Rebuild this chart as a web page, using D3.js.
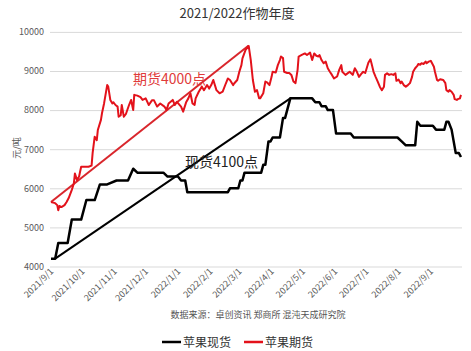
<!DOCTYPE html>
<html>
<head>
<meta charset="utf-8">
<script src="https://cdn.jsdelivr.net/npm/d3@7"></script>
<style>
  body { margin: 0; background: #fff; }
  text { font-family: "Noto Sans CJK SC", "Noto Sans", sans-serif; }
  .tick text { fill: #595959; font-size: 9px; }
  .grid line { stroke: #d9d9d9; }
</style>
</head>
<body>
<div id="chart"></div>
<script>
// apple spot price (step changes), 元/吨
const spotDates = ["2021-09-01","2021-09-05","2021-09-08","2021-09-17","2021-09-21","2021-09-30","2021-10-05","2021-10-13","2021-10-18","2021-10-25","2021-11-03","2021-11-14","2021-11-19","2021-11-23","2021-12-18","2021-12-22","2022-01-01","2022-01-04","2022-01-08","2022-01-10","2022-02-18","2022-02-20","2022-02-28","2022-03-02","2022-03-04","2022-03-06","2022-03-22","2022-03-24","2022-03-26","2022-03-29","2022-03-31","2022-04-02","2022-04-09","2022-04-12","2022-04-14","2022-04-19","2022-05-10","2022-05-13","2022-05-17","2022-05-19","2022-05-23","2022-05-25","2022-05-30","2022-06-02","2022-06-16","2022-06-19","2022-07-31","2022-08-04","2022-08-08","2022-08-17","2022-08-19","2022-08-22","2022-09-03","2022-09-06","2022-09-14","2022-09-16","2022-09-18","2022-09-21","2022-09-23","2022-09-25","2022-09-28","2022-09-30"];
const spotValues = [4200,4200,4600,4600,5200,5200,5700,5700,6100,6100,6200,6200,6500,6400,6400,6300,6300,6200,6200,5900,5900,6000,6000,6200,6200,6400,6400,6600,6600,7200,7200,7300,7300,7800,7800,8300,8300,8200,8200,8100,8100,8000,8000,7400,7400,7300,7300,7200,7100,7100,7700,7600,7600,7500,7500,7700,7700,7500,7200,6900,6900,6800];

// apple futures close
const futDates = ["2021-09-01","2021-09-05","2021-09-07","2021-09-08","2021-09-09","2021-09-11","2021-09-14","2021-09-16","2021-09-18","2021-09-21","2021-09-23","2021-09-24","2021-09-26","2021-09-28","2021-09-29","2021-09-30","2021-10-07","2021-10-10","2021-10-11","2021-10-13","2021-10-15","2021-10-16","2021-10-19","2021-10-20","2021-10-22","2021-10-25","2021-10-26","2021-10-28","2021-10-30","2021-10-31","2021-11-02","2021-11-04","2021-11-05","2021-11-07","2021-11-08","2021-11-10","2021-11-12","2021-11-15","2021-11-17","2021-11-19","2021-11-20","2021-11-23","2021-11-26","2021-11-28","2021-12-01","2021-12-04","2021-12-07","2021-12-09","2021-12-12","2021-12-15","2021-12-19","2021-12-21","2021-12-23","2021-12-27","2021-12-29","2021-12-31","2022-01-04","2022-01-06","2022-01-09","2022-01-11","2022-01-13","2022-01-15","2022-01-17","2022-01-18","2022-01-21","2022-01-24","2022-01-26","2022-01-29","2022-01-31","2022-02-02","2022-02-04","2022-02-07","2022-02-10","2022-02-13","2022-02-16","2022-02-18","2022-02-20","2022-02-23","2022-02-24","2022-02-27","2022-03-01","2022-03-03","2022-03-04","2022-03-07","2022-03-10","2022-03-12","2022-03-14","2022-03-16","2022-03-18","2022-03-20","2022-03-21","2022-03-24","2022-03-26","2022-03-28","2022-03-30","2022-04-01","2022-04-02","2022-04-05","2022-04-07","2022-04-09","2022-04-10","2022-04-12","2022-04-13","2022-04-16","2022-04-18","2022-04-20","2022-04-22","2022-04-24","2022-04-26","2022-04-27","2022-04-30","2022-05-03","2022-05-05","2022-05-08","2022-05-10","2022-05-12","2022-05-14","2022-05-16","2022-05-17","2022-05-19","2022-05-21","2022-05-23","2022-05-25","2022-05-27","2022-05-29","2022-05-31","2022-06-03","2022-06-05","2022-06-07","2022-06-08","2022-06-11","2022-06-13","2022-06-15","2022-06-18","2022-06-20","2022-06-22","2022-06-24","2022-06-26","2022-06-28","2022-06-30","2022-07-03","2022-07-05","2022-07-06","2022-07-08","2022-07-10","2022-07-12","2022-07-14","2022-07-16","2022-07-18","2022-07-19","2022-07-21","2022-07-23","2022-07-25","2022-07-27","2022-07-29","2022-07-30","2022-08-01","2022-08-03","2022-08-04","2022-08-06","2022-08-08","2022-08-10","2022-08-12","2022-08-14","2022-08-15","2022-08-17","2022-08-19","2022-08-20","2022-08-22","2022-08-23","2022-08-25","2022-08-27","2022-08-28","2022-08-30","2022-09-01","2022-09-04","2022-09-05","2022-09-07","2022-09-08","2022-09-10","2022-09-13","2022-09-15","2022-09-16","2022-09-18","2022-09-19","2022-09-21","2022-09-23","2022-09-24","2022-09-26","2022-09-27","2022-09-29","2022-09-30"];
const futValues = [5650,5620,5570,5440,5550,5520,5570,5650,5750,5960,6130,6380,6210,6300,6430,6550,6550,6580,6900,7320,7230,7490,7750,7920,8170,8640,8600,8260,8170,8200,8130,8090,7830,7870,8130,7830,7900,8130,8260,8000,8390,8370,8330,8260,8300,8130,8250,8250,8090,8170,8090,8000,8170,8260,8130,8210,8090,7960,8210,8300,8430,8170,8130,8300,8470,8600,8510,8640,8550,8640,8770,8510,8430,8470,8680,8810,8770,8640,8680,8770,8980,9150,9325,9540,9640,9280,8770,8470,8510,8300,8300,8430,8730,8700,8640,8850,8980,8960,9150,9280,9370,9330,8980,8950,8950,8900,8730,8690,9030,9370,9410,9450,9410,9470,9280,9450,9390,9370,9410,9280,9200,9240,9070,8980,8900,8810,8860,9030,9150,8980,8900,8940,8980,8900,9070,8980,8850,8920,8980,8950,9210,9300,9200,8980,8850,8730,8600,8510,8600,8900,8940,8900,8920,8900,8940,8750,8780,8690,8730,8640,8600,8640,8690,8850,8980,9070,9130,9180,9160,9200,9180,9240,9200,9240,9260,9110,8980,8770,8750,8790,8770,8690,8510,8470,8510,8470,8390,8280,8260,8280,8300,8390];

// trend lines drawn by hand on the original chart
const futTrend = [["2021-09-01", 5650], ["2022-03-10", 9650]];
const spotTrend = [["2021-09-05", 4200], ["2022-04-19", 8300]];

const monthTicks = ["2021-09-01","2021-10-01","2021-11-01","2021-12-01","2022-01-01","2022-02-01","2022-03-01","2022-04-01","2022-05-01","2022-06-01","2022-07-01","2022-08-01","2022-09-01"];
const yTicks = [4000, 5000, 6000, 7000, 8000, 9000, 10000];

const W = 471, H = 351;
const parse = d3.timeParse("%Y-%m-%d");
const fmt = d3.timeFormat("%Y/%-m/%-d");

const svg = d3.select("#chart")
  .append("svg")
    .attr("width", W)
    .attr("height", H);

const x = d3.scaleTime()
  .domain([parse("2021-09-01"), parse("2022-10-01")])
  .range([51, 462]);

const y = d3.scaleLinear()
  .domain([4000, 10000])
  .range([266.5, 31.9]);

// horizontal grid
svg.append("g")
    .attr("class", "grid")
    .attr("transform", "translate(50,0)")
  .call(d3.axisLeft(y).tickValues(yTicks).tickSize(-412).tickFormat(""))
  .call(g => g.select(".domain").remove());

// y axis labels
svg.append("g")
    .attr("transform", "translate(50,0)")
  .call(d3.axisLeft(y).tickValues(yTicks).tickSize(0).tickPadding(6).tickFormat(d3.format("d")))
  .call(g => g.select(".domain").remove());

svg.append("text")
    .attr("transform", "translate(20,148) rotate(-90)")
    .attr("text-anchor", "middle")
    .attr("fill", "#595959")
    .style("font-size", "9px")
    .text("元/吨");

// x axis labels, rotated
svg.append("g")
  .selectAll("text")
  .data(monthTicks)
  .enter()
  .append("text")
    .attr("transform", d => "translate(" + (x(parse(d)) + 3) + ",272) rotate(-45)")
    .attr("text-anchor", "end")
    .attr("fill", "#595959")
    .style("font-size", "9px")
    .text(d => fmt(parse(d)));

const line = d3.line()
  .x(d => x(parse(d[0])))
  .y(d => y(d[1]));

// trend lines
svg.append("path")
    .attr("d", line(futTrend))
    .attr("fill", "none")
    .attr("stroke", "#d9262c")
    .attr("stroke-width", 2);

svg.append("path")
    .attr("d", line(spotTrend))
    .attr("fill", "none")
    .attr("stroke", "#000")
    .attr("stroke-width", 2);

// series
svg.append("path")
    .attr("d", line(futDates.map((d, i) => [d, futValues[i]])))
    .attr("fill", "none")
    .attr("stroke", "#e3121b")
    .attr("stroke-width", 2)
    .attr("stroke-linejoin", "round");

svg.append("path")
    .attr("d", line(spotDates.map((d, i) => [d, spotValues[i]])))
    .attr("fill", "none")
    .attr("stroke", "#000")
    .attr("stroke-width", 2.5)
    .attr("stroke-linejoin", "round");

// annotations
svg.append("text")
    .attr("x", 133)
    .attr("y", 84)
    .attr("fill", "#e03b3b")
    .style("font-size", "14px")
    .text("期货4000点");

svg.append("text")
    .attr("x", 185)
    .attr("y", 167)
    .attr("fill", "#222")
    .style("font-size", "14px")
    .text("现货4100点");

// title
svg.append("text")
    .attr("x", 237)
    .attr("y", 18)
    .attr("text-anchor", "middle")
    .attr("fill", "#333")
    .style("font-size", "13px")
    .text("2021/2022作物年度");

// source
svg.append("text")
    .attr("x", 258)
    .attr("y", 318)
    .attr("text-anchor", "middle")
    .attr("fill", "#555")
    .style("font-size", "9px")
    .text("数据来源：卓创资讯 郑商所 混沌天成研究院");

// legend
const legend = [["苹果现货", "#000", 162], ["苹果期货", "#e3121b", 244]];
const lg = svg.selectAll(".legend")
  .data(legend)
  .enter()
  .append("g")
    .attr("transform", d => "translate(" + d[2] + ",342)");
lg.append("line")
    .attr("x1", 0).attr("x2", 19)
    .attr("stroke", d => d[1])
    .attr("stroke-width", 2.5);
lg.append("text")
    .attr("x", 21)
    .attr("y", 5)
    .attr("fill", "#333")
    .style("font-size", "12px")
    .text(d => d[0]);
</script>
</body>
</html>
